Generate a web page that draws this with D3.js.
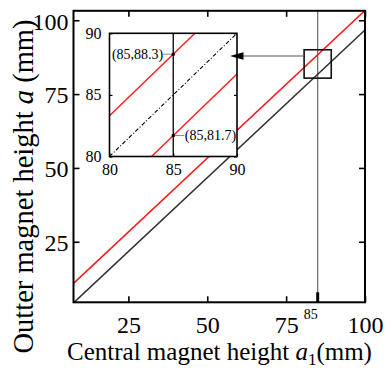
<!DOCTYPE html>
<html>
<head>
<meta charset="utf-8">
<script src="https://cdn.jsdelivr.net/npm/d3@7/dist/d3.min.js"></script>
<style>
  body { margin: 0; background: #fff; }
  svg text { font-family: "Liberation Serif", "Times New Roman", serif; fill: #000; }
</style>
</head>
<body>
<div id="chart"></div>
<script>
// main plot: two boundary lines a = a1 +/- 3.3
var redA1 = [7.6, 100];
var redA = [10.9, 103.3];
var blackA1 = [7.6, 100];
var blackA = [4.3, 96.7];
var mainXTicks = [25, 50, 75, 100];
var mainYTicks = [25, 50, 75, 100];
var markA1 = 85;
var zoomBoxA1 = [80.7, 89.3];
var zoomBoxA = [80.4, 90];
var arrowA = 87.9;

// inset (zoomed around a1 = 85)
var upperA1 = [80, 86.7];
var upperA = [83.3, 90];
var lowerA1 = [83.3, 90];
var lowerA = [80, 86.7];
var diagA1 = [80, 90];
var diagA = [80, 90];
var insetTicks = [80, 85, 90];
var pointA1 = [85, 85];
var pointA = [88.3, 81.7];
var pointLabels = ["(85,88.3)", "(85,81.7)"];

var W = 385, H = 370;
var mLeft = 73.5, mRight = 365, mTop = 10.8, mBottom = 302.3;

var svg = d3.select("#chart").append("svg")
    .attr("width", W)
    .attr("height", H);

var x = d3.scaleLinear().domain([7.6, 100]).range([mLeft, mRight]);
var y = d3.scaleLinear().domain([4.5, 103.2]).range([mBottom, mTop]);

svg.append("clipPath").attr("id", "clip")
  .append("rect")
    .attr("x", mLeft).attr("y", mTop)
    .attr("width", mRight - mLeft).attr("height", mBottom - mTop);

var line = d3.line()
    .x(function(d) { return x(d[0]); })
    .y(function(d) { return y(d[1]); });

function pairs(xs, ys) {
    return xs.map(function(v, i) { return [v, ys[i]]; });
}

// vertical guide at a1 = 85
svg.append("line")
    .attr("x1", x(markA1)).attr("x2", x(markA1))
    .attr("y1", mTop).attr("y2", mBottom)
    .attr("stroke", "#666").attr("stroke-width", 1.2);

var plot = svg.append("g").attr("clip-path", "url(#clip)");
plot.append("path")
    .attr("d", line(pairs(blackA1, blackA)))
    .attr("fill", "none").attr("stroke", "#333").attr("stroke-width", 1.6);
plot.append("path")
    .attr("d", line(pairs(redA1, redA)))
    .attr("fill", "none").attr("stroke", "#ff1a1a").attr("stroke-width", 1.6);

// axes, ticks inward
var gx = svg.append("g")
    .attr("transform", "translate(0," + mBottom + ")")
    .call(d3.axisBottom(x).tickValues(mainXTicks).tickSize(-6).tickFormat(d3.format("d")));
gx.selectAll("text").attr("y", 31).attr("dy", 0).style("font-size", "24px");

var gy = svg.append("g")
    .attr("transform", "translate(" + mLeft + ",0)")
    .call(d3.axisLeft(y).tickValues(mainYTicks).tickSize(-6).tickFormat(d3.format("d")));
gy.selectAll("text").attr("x", -5).attr("dy", "0.37em").style("font-size", "24px");

svg.append("g")
    .attr("transform", "translate(0," + mTop + ")")
    .call(d3.axisTop(x).tickValues(mainXTicks).tickSize(-6).tickFormat(""));
svg.append("g")
    .attr("transform", "translate(" + mRight + ",0)")
    .call(d3.axisRight(y).tickValues(mainYTicks).tickSize(-6).tickFormat(""));

svg.selectAll(".domain").remove();
svg.selectAll(".tick line").attr("stroke", "#000").attr("stroke-width", 1.6);

svg.append("rect")
    .attr("x", mLeft).attr("y", mTop)
    .attr("width", mRight - mLeft).attr("height", mBottom - mTop)
    .attr("fill", "none").attr("stroke", "#000").attr("stroke-width", 2);

// special tick at 85
svg.append("line")
    .attr("x1", x(markA1)).attr("x2", x(markA1))
    .attr("y1", mBottom).attr("y2", mBottom - 10)
    .attr("stroke", "#000").attr("stroke-width", 3);
svg.append("text")
    .attr("x", x(markA1)).attr("y", 318.5)
    .attr("text-anchor", "end")
    .style("font-size", "14px")
    .text(markA1);

// zoom box
svg.append("rect")
    .attr("x", x(zoomBoxA1[0])).attr("y", y(zoomBoxA[1]))
    .attr("width", x(zoomBoxA1[1]) - x(zoomBoxA1[0]))
    .attr("height", y(zoomBoxA[0]) - y(zoomBoxA[1]))
    .attr("fill", "none").attr("stroke", "#111").attr("stroke-width", 1.6);

// inset
var iL = 109.5, iR = 237, iT = 33.3, iB = 156.5;
var ix = d3.scaleLinear().domain([80, 90]).range([iL, iR]);
var iy = d3.scaleLinear().domain([80, 90]).range([iB, iT]);
var iline = d3.line()
    .x(function(d) { return ix(d[0]); })
    .y(function(d) { return iy(d[1]); });

var inset = svg.append("g");
inset.append("rect")
    .attr("x", iL).attr("y", iT).attr("width", iR - iL).attr("height", iB - iT)
    .attr("fill", "#fff");

inset.append("line")
    .attr("x1", ix(85)).attr("x2", ix(85))
    .attr("y1", iT).attr("y2", iB)
    .attr("stroke", "#000").attr("stroke-width", 1.3);
inset.append("path")
    .attr("d", iline(pairs(diagA1, diagA)))
    .attr("fill", "none").attr("stroke", "#000").attr("stroke-width", 1.1)
    .attr("stroke-dasharray", "4,2,1,2");
inset.append("path")
    .attr("d", iline(pairs(upperA1, upperA)))
    .attr("fill", "none").attr("stroke", "#ff1a1a").attr("stroke-width", 1.4);
inset.append("path")
    .attr("d", iline(pairs(lowerA1, lowerA)))
    .attr("fill", "none").attr("stroke", "#ff1a1a").attr("stroke-width", 1.4);

var ixa = inset.append("g")
    .attr("transform", "translate(0," + iB + ")")
    .call(d3.axisBottom(ix).tickValues(insetTicks).tickSize(-3).tickFormat(d3.format("d")));
ixa.selectAll("text").attr("y", 18.5).attr("dy", 0).style("font-size", "16px");
var iya = inset.append("g")
    .attr("transform", "translate(" + iL + ",0)")
    .call(d3.axisLeft(iy).tickValues(insetTicks).tickSize(-3).tickFormat(d3.format("d")));
iya.selectAll("text").attr("x", -8).attr("dy", "0.3em").style("font-size", "16px");
inset.append("g")
    .attr("transform", "translate(" + iR + ",0)")
    .call(d3.axisRight(iy).tickValues(insetTicks).tickSize(-3).tickFormat(""));
inset.selectAll(".domain").remove();
inset.selectAll(".tick line").attr("stroke", "#000").attr("stroke-width", 1.2);

inset.append("rect")
    .attr("x", iL).attr("y", iT).attr("width", iR - iL).attr("height", iB - iT)
    .attr("fill", "none").attr("stroke", "#000").attr("stroke-width", 1.6);

// labelled points with leader lines
pointA1.forEach(function(a1, i) {
    var px = ix(a1), py = iy(pointA[i]);
    var toLeft = i === 0;
    var lx = toLeft ? px - 10 : px + 11;
    inset.append("line")
        .attr("x1", px).attr("x2", lx)
        .attr("y1", py).attr("y2", py)
        .attr("stroke", "#888").attr("stroke-width", 1);
    inset.append("rect")
        .attr("x", px - 1.5).attr("y", py - 1.5)
        .attr("width", 3).attr("height", 3)
        .attr("fill", "#000");
    inset.append("text")
        .attr("x", toLeft ? lx : lx + 0.5).attr("y", py)
        .attr("dy", "0.33em")
        .attr("text-anchor", toLeft ? "end" : "start")
        .style("font-size", "14px")
        .text(pointLabels[i]);
});

// arrow from zoom box to inset
var ay = y(arrowA);
svg.append("line")
    .attr("x1", x(zoomBoxA1[0])).attr("x2", 242)
    .attr("y1", ay).attr("y2", ay)
    .attr("stroke", "#555").attr("stroke-width", 1.2);
svg.append("path")
    .attr("d", "M230," + ay + "L243.5," + (ay - 3.8) + "L243.5," + (ay + 3.8) + "Z")
    .attr("fill", "#000");

// axis titles
var xt = svg.append("text")
    .attr("x", 67).attr("y", 360)
    .style("font-size", "25px");
xt.append("tspan").text("Central magnet height ");
xt.append("tspan").style("font-style", "italic").text("a");
xt.append("tspan").attr("dy", 5).style("font-size", "17px").text("1");
xt.append("tspan").attr("dy", -5).text("(mm)");

var yt = svg.append("text")
    .attr("transform", "translate(33,186.5) rotate(-90)")
    .attr("text-anchor", "middle")
    .style("font-size", "28.5px");
yt.append("tspan").text("Outter magnet height ");
yt.append("tspan").style("font-style", "italic").text("a");
yt.append("tspan").text(" (mm)");
</script>
</body>
</html>
